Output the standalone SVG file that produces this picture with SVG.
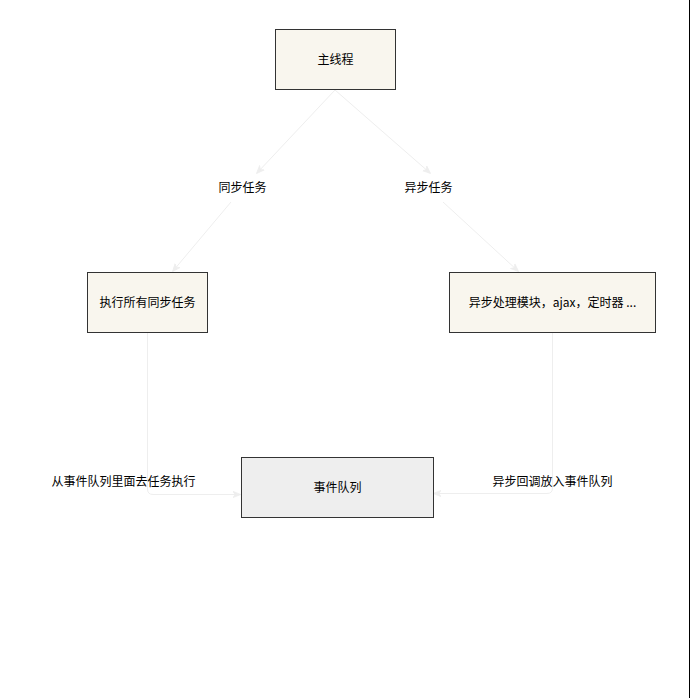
<svg xmlns="http://www.w3.org/2000/svg" width="690" height="698" viewBox="0 0 690 698">
  <style>
    .node { fill: #f9f6ee; stroke: #333333; stroke-width: 1; }
    .queue { fill: #eeeeee; stroke: #333333; stroke-width: 1; }
    .edge { fill: none; stroke: #eeeeee; stroke-width: 1; }
    text { font-family: "Noto Sans CJK SC", "Liberation Sans", sans-serif; font-size: 12px; fill: #000000; text-anchor: middle; dominant-baseline: central; }
  </style>
  <defs>
    <marker id="arrow" viewBox="0 0 10 10" refX="9" refY="5" markerWidth="8" markerHeight="8" orient="auto" markerUnits="userSpaceOnUse">
      <path d="M0,1 L10,5 L0,9 L3,5 Z" fill="#eeeeee" stroke="#eeeeee" stroke-width="1"/>
    </marker>
  </defs>
  <rect x="0" y="0" width="690" height="698" fill="#ffffff"/>
  <line x1="689.5" y1="0" x2="689.5" y2="698" stroke="#000000" stroke-width="1"/>

  <g id="connectors">
    <path class="edge" d="M335,90 L257,173" marker-end="url(#arrow)"/>
    <path class="edge" d="M231,202 L173,271" marker-end="url(#arrow)"/>
    <path class="edge" d="M335,90 L430,173" marker-end="url(#arrow)"/>
    <path class="edge" d="M443,202 L518,271" marker-end="url(#arrow)"/>
    <path class="edge" d="M147.5,333 L147.5,489 Q147.5,494.5 153,494.5 L240,494.5" marker-end="url(#arrow)"/>
    <path class="edge" d="M552.5,333 L552.5,488 Q552.5,493.5 547,493.5 L434,493.5" marker-end="url(#arrow)"/>
    <text x="123.5" y="480.5">从事件队列里面去任务执行</text>
    <text x="552.5" y="480.5">异步回调放入事件队列</text>
  </g>

  <g id="main-thread">
    <rect class="node" x="275.5" y="29.5" width="120" height="60"/>
    <text x="335.5" y="58.5">主线程</text>
  </g>
  <g id="sync-task">
    <text x="242.5" y="186.5">同步任务</text>
  </g>
  <g id="async-task">
    <text x="428.5" y="186.5">异步任务</text>
  </g>
  <g id="run-sync">
    <rect class="node" x="87.5" y="272.5" width="120" height="60"/>
    <text x="147.5" y="301.5">执行所有同步任务</text>
  </g>
  <g id="async-module">
    <rect class="node" x="449.5" y="272.5" width="206" height="60"/>
    <text x="552.5" y="301.5">异步处理模块，ajax，定时器 ...</text>
  </g>
  <g id="event-queue">
    <rect class="queue" x="241.5" y="457.5" width="192" height="60"/>
    <text x="337.5" y="486.5">事件队列</text>
  </g>
</svg>
